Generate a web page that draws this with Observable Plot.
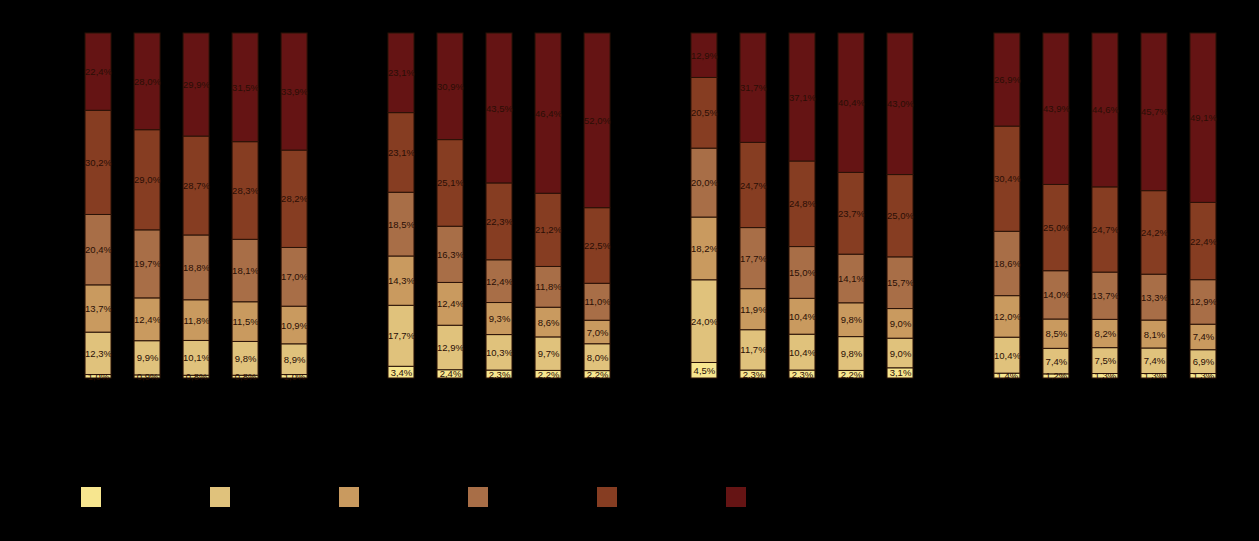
<!DOCTYPE html>
<html>
<head>
<meta charset="utf-8">
<script src="https://cdn.jsdelivr.net/npm/d3@7"></script>
<script src="https://cdn.jsdelivr.net/npm/@observablehq/plot@0.6"></script>
<style>
  html, body { margin: 0; padding: 0; background: #000; }
  #chart svg { display: block; }
  #legend { position: relative; height: 60px; margin-top: 47px; font: 11px "Liberation Sans", Arial, sans-serif; color: #000; }
  .item { position: absolute; top: 0; display: flex; align-items: center; }
  .sw { width: 20px; height: 20px; margin-right: 6px; }
</style>
</head>
<body>
<div id="chart"></div>
<div id="legend"></div>
<script>
// Groups (facets) and periods (bars within each group)
const groups = ["Grupo 1", "Grupo 2", "Grupo 3", "Grupo 4"];
const periods = ["P1", "P2", "P3", "P4", "P5"];
// Categories, bottom to top
const categories = ["Classe 1", "Classe 2", "Classe 3", "Classe 4", "Classe 5", "Classe 6"];
const colors = ["#f7e68f", "#e0c27c", "#c99a5f", "#a86e47", "#863d22", "#651414"];

// Values (%) per category, ordered group by group, period by period
const cat1 = [1.0, 0.9, 0.8, 0.8, 1.0,  3.4, 2.4, 2.3, 2.2, 2.2,  4.5, 2.3, 2.3, 2.2, 3.1,  1.4, 1.2, 1.3, 1.3, 1.3];
const cat2 = [12.3, 9.9, 10.1, 9.8, 8.9,  17.7, 12.9, 10.3, 9.7, 8.0,  24.0, 11.7, 10.4, 9.8, 9.0,  10.4, 7.4, 7.5, 7.4, 6.9];
const cat3 = [13.7, 12.4, 11.8, 11.5, 10.9,  14.3, 12.4, 9.3, 8.6, 7.0,  18.2, 11.9, 10.4, 9.8, 9.0,  12.0, 8.5, 8.2, 8.1, 7.4];
const cat4 = [20.4, 19.7, 18.8, 18.1, 17.0,  18.5, 16.3, 12.4, 11.8, 11.0,  20.0, 17.7, 15.0, 14.1, 15.7,  18.6, 14.0, 13.7, 13.3, 12.9];
const cat5 = [30.2, 29.0, 28.7, 28.3, 28.2,  23.1, 25.1, 22.3, 21.2, 22.5,  20.5, 24.7, 24.8, 23.7, 25.0,  30.4, 25.0, 24.7, 24.2, 22.4];
const cat6 = [22.4, 28.0, 29.9, 31.5, 33.9,  23.1, 30.9, 43.5, 46.4, 52.0,  12.9, 31.7, 37.1, 40.4, 43.0,  26.9, 43.9, 44.6, 45.7, 49.1];
const series = [cat1, cat2, cat3, cat4, cat5, cat6];

const data = [];
groups.forEach((g, gi) => {
  periods.forEach((p, pi) => {
    categories.forEach((c, ci) => {
      data.push({group: g, period: p, cat: c, value: series[ci][gi * 5 + pi]});
    });
  });
});

const fmt = v => v.toFixed(1).replace(".", ",") + "%";

const chart = Plot.plot({
  width: 1259,
  height: 440,
  marginTop: 33,
  marginBottom: 62,
  marginLeft: 62,
  marginRight: 20,
  style: {background: "#000", color: "#000", fontFamily: "Liberation Sans, Arial, sans-serif"},
  fx: {domain: groups, paddingInner: 0.115, paddingOuter: 0, round: false, label: null, axis: "bottom", tickSize: 0, tickPadding: 26},
  x: {domain: periods, padding: 0.47, round: false, label: null, tickSize: 0, tickPadding: 4},
  y: {domain: [0, 1], axis: null},
  color: {domain: categories, range: colors},
  marks: [
    Plot.barY(data, Plot.stackY({
      fx: "group", x: "period", y: "value", fill: "cat", order: categories,
      offset: "normalize", stroke: "#2a1207", strokeWidth: 1
    })),
    Plot.text(data, Plot.stackY({
      fx: "group", x: "period", y: "value", z: "cat", order: categories,
      offset: "normalize", text: d => fmt(d.value),
      fill: "#2a0e05", fontSize: 9.5, fontFamily: "Liberation Sans, Arial, sans-serif"
    }))
  ]
});
document.getElementById("chart").appendChild(chart);

const legend = document.getElementById("legend");
categories.forEach((c, i) => {
  const item = document.createElement("div");
  item.className = "item";
  item.style.left = (81 + 129 * i) + "px";
  const sw = document.createElement("div");
  sw.className = "sw";
  sw.style.background = colors[i];
  const lab = document.createElement("span");
  lab.textContent = c;
  item.appendChild(sw);
  item.appendChild(lab);
  legend.appendChild(item);
});
</script>
</body>
</html>
